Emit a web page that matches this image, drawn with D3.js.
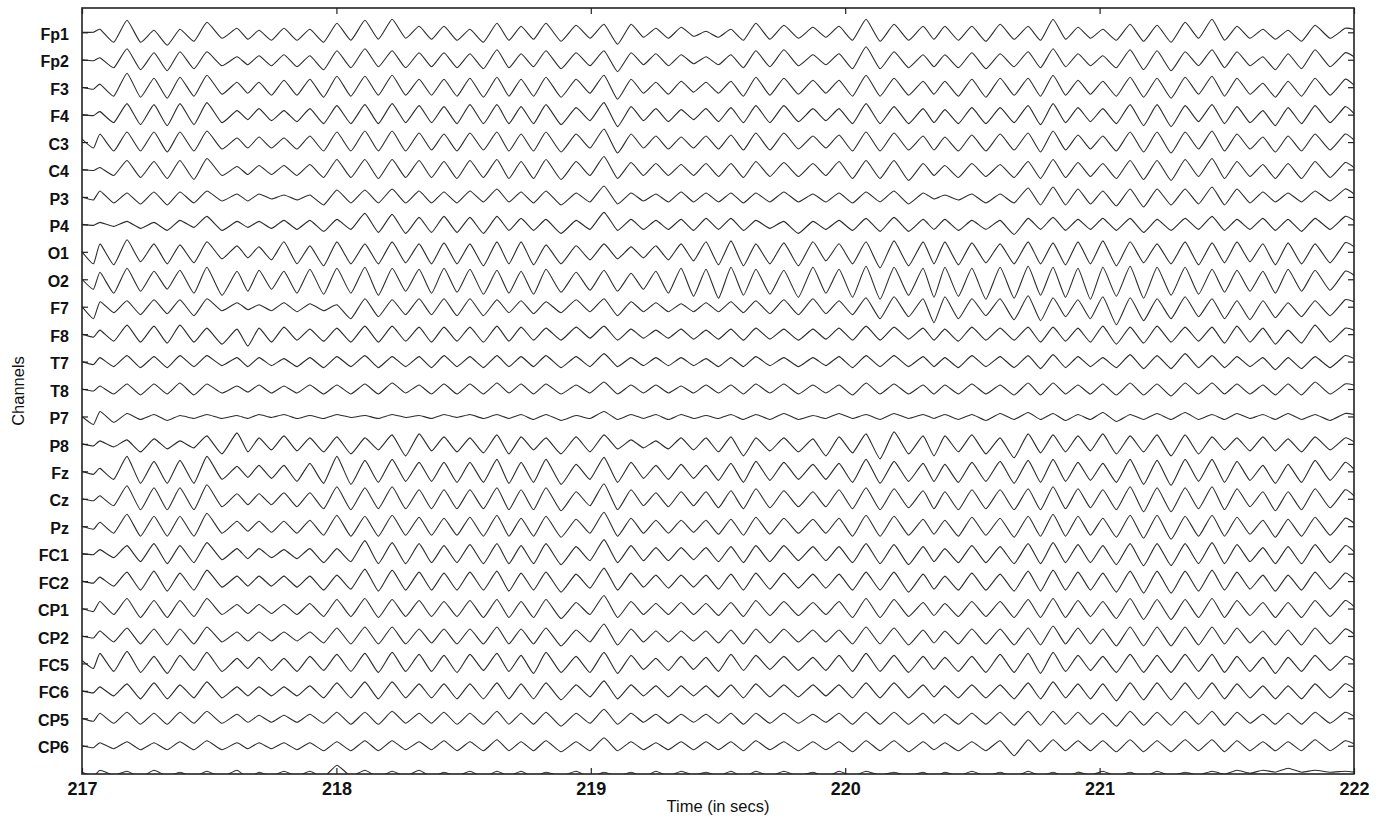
<!DOCTYPE html>
<html>
<head>
<meta charset="utf-8">
<script src="https://cdn.jsdelivr.net/npm/d3@7"></script>
<style>
  body { margin: 0; background: #fff; }
  text { font-family: "Liberation Sans", Arial, Helvetica, sans-serif; }
</style>
</head>
<body>
<div id="chart"></div>
<script>
// channel labels, top to bottom (a 28th trace below CP6 is drawn but not labelled)
const channels = ["Fp1", "Fp2", "F3", "F4", "C3", "C4", "P3", "P4", "O1", "O2",
    "F7", "F8", "T7", "T8", "P7", "P8", "Fz", "Cz", "Pz", "FC1", "FC2",
    "CP1", "CP2", "FC5", "FC6", "CP5", "CP6"];

const timeTicks = [217, 218, 219, 220, 221, 222];

const times = [217.000,
    217.045, 217.071, 217.125, 217.177, 217.230, 217.283, 217.335, 217.385,
    217.440, 217.491, 217.550, 217.609, 217.652, 217.696, 217.745, 217.794,
    217.845, 217.896, 217.950, 218.002, 218.057, 218.112, 218.165, 218.219,
    218.272, 218.325, 218.374, 218.423, 218.474, 218.525, 218.578, 218.631,
    218.678, 218.726, 218.775, 218.824, 218.883, 218.942, 218.997, 219.052,
    219.105, 219.158, 219.207, 219.256, 219.305, 219.355, 219.404, 219.453,
    219.502, 219.551, 219.600, 219.649, 219.704, 219.759, 219.816, 219.873,
    219.924, 219.976, 220.029, 220.082, 220.137, 220.192, 220.249, 220.306,
    220.349, 220.392, 220.445, 220.498, 220.553, 220.609, 220.664, 220.719,
    220.768, 220.817, 220.866, 220.915, 220.964, 221.013, 221.066, 221.120,
    221.173, 221.226, 221.281, 221.336, 221.389, 221.442, 221.491, 221.540,
    221.591, 221.642, 221.691, 221.741, 221.794, 221.847, 221.906, 221.965,
    222.000];

// amplitude of each trace at those vertex times (up = positive)
const traces = [
  // Fp1
  [0,
   0,3, -10,12, -10,2, -13,3, -9,10, -6,4, -7,2, -8,4, -8,3, -10,9, -8,12, -7,13, -6,6, -7,6, -8,3, -10,9,
   -8,6, -7,9, -9,7, -6,8, -12,8, -5,4, -6,5, -4,1, -5,3, -8,9, -7,7, -6,5, -5,6, -8,13, -9,8, -8,6,
   -7,6, -8,6, -9,8, -7,6, -8,13, -7,5, -6,3, -8,8, -9,7, -10,10, -6,13, -8,6, -6,3, -7,2, -9,7, -6,4,
   3],
  // Fp2
  [0,
   -1,2, -8,11, -10,7, -11,8, -9,8, -6,3, -5,4, -6,5, -7,4, -10,9, -8,11, -7,9, -8,7, -7,7, -8,6, -9,10,
   -8,6, -7,9, -9,7, -6,9, -12,7, -5,6, -6,5, -4,3, -5,5, -8,9, -7,10, -6,5, -5,6, -9,13, -9,8, -8,5,
   -7,5, -8,7, -9,6, -7,8, -8,11, -7,6, -6,4, -8,10, -10,9, -11,8, -6,10, -8,8, -6,3, -10,6, -9,10, -7,7,
   3],
  // F3
  [0,
   -2,3, -9,14, -10,9, -11,10, -9,12, -7,5, -6,5, -8,7, -8,8, -10,11, -9,11, -8,12, -8,8, -8,8, -9,9, -10,10,
   -9,8, -9,10, -10,8, -6,12, -12,8, -6,5, -7,6, -5,5, -6,6, -9,10, -8,9, -7,7, -6,7, -9,12, -9,9, -8,6,
   -7,6, -9,8, -10,9, -8,9, -9,12, -8,7, -7,6, -9,10, -10,9, -11,10, -7,11, -9,9, -7,4, -10,6, -9,9, -8,8,
   2],
  // F4
  [0,
   -1,3, -8,11, -10,10, -11,11, -10,12, -8,4, -5,6, -6,4, -7,6, -9,9, -9,10, -9,11, -8,9, -8,8, -9,10, -9,10,
   -9,8, -9,10, -10,7, -6,12, -12,8, -6,6, -7,5, -5,6, -7,7, -8,9, -8,9, -7,6, -6,6, -9,11, -9,8, -9,6,
   -8,5, -9,7, -9,7, -8,9, -10,11, -8,7, -7,6, -9,10, -11,10, -12,9, -7,10, -9,8, -8,4, -11,7, -9,9, -8,8,
   1],
  // C3
  [3,
   -6,8, -9,10, -9,10, -10,10, -9,11, -7,4, -6,5, -6,4, -7,6, -9,10, -9,11, -9,11, -9,9, -8,8, -9,9, -8,10,
   -9,8, -9,10, -10,8, -6,13, -11,8, -6,6, -7,5, -6,6, -7,7, -8,9, -8,9, -7,6, -6,7, -9,10, -9,9, -8,6,
   -8,5, -9,7, -9,8, -8,9, -10,11, -8,7, -7,6, -9,10, -10,10, -11,10, -7,11, -9,8, -7,5, -10,6, -9,8, -8,8,
   2],
  // C4
  [0,
   -1,2, -6,9, -8,8, -9,9, -10,11, -6,3, -5,4, -5,4, -6,5, -8,10, -8,10, -9,10, -8,9, -8,8, -9,9, -8,10,
   -9,8, -9,10, -10,8, -6,13, -9,7, -6,6, -6,5, -6,6, -7,6, -8,8, -7,7, -7,6, -6,8, -9,9, -9,9, -11,6,
   -6,4, -8,6, -7,5, -8,8, -9,10, -8,7, -7,6, -9,9, -10,9, -11,10, -7,11, -9,8, -7,5, -9,6, -9,8, -8,7,
   2],
  // P3
  [0,
   -3,6, -6,4, -7,5, -8,5, -6,6, -4,3, -4,3, -2,2, -3,2, -8,7, -6,7, -6,8, -6,6, -6,5, -6,6, -5,8,
   -5,5, -6,6, -8,4, -5,11, -7,4, -4,3, -5,5, -5,4, -5,4, -6,4, -5,5, -5,3, -5,4, -6,5, -5,6, -7,4,
   -2,2, -3,3, -6,3, -6,9, -8,10, -8,8, -7,6, -9,8, -10,8, -8,8, -7,10, -8,8, -6,5, -5,4, -5,6, -4,8,
   3],
  // P4
  [0,
   -1,2, -2,3, -4,2, -6,4, -3,8, -6,3, -3,3, -4,4, -5,4, -7,5, -5,11, -8,10, -9,7, -8,8, -8,7, -9,8,
   -6,6, -6,5, -9,4, -5,12, -6,5, -5,4, -5,5, -6,6, -5,6, -6,4, -4,3, -9,3, -5,4, -6,6, -7,7, -7,5,
   -5,5, -6,4, -5,4, -10,6, -5,7, -6,5, -5,6, -6,6, -8,5, -6,6, -5,8, -6,5, -5,6, -6,5, -7,6, -5,8,
   4],
  // O1
  [0,
   -12,8, -13,12, -10,8, -12,7, -11,10, -7,6, -6,5, -8,10, -12,6, -14,10, -12,8, -12,10, -11,8, -12,9, -12,8, -14,10,
   -12,10, -13,7, -12,6, -8,8, -7,5, -6,6, -8,8, -9,10, -13,11, -14,8, -12,9, -14,10, -9,8, -12,10, -16,11, -14,10,
   -12,10, -13,9, -11,8, -12,10, -12,9, -13,10, -12,11, -14,10, -11,8, -12,10, -13,9, -11,10, -10,8, -13,9, -12,8, -11,9,
   5],
  // O2
  [0,
   -10,7, -14,11, -12,8, -10,9, -14,12, -16,8, -12,9, -10,8, -14,10, -15,11, -14,12, -16,11, -12,10, -14,11, -13,10, -15,9,
   -14,8, -15,10, -13,7, -11,9, -12,6, -10,8, -14,11, -17,10, -19,12, -16,10, -15,9, -18,12, -14,10, -18,13, -20,12, -16,11,
   -18,12, -17,11, -20,12, -19,13, -16,12, -18,11, -20,12, -17,13, -19,12, -16,12, -15,10, -13,9, -12,8, -14,10, -12,9, -11,8,
   4],
  // F7
  [0,
   -12,5, -6,6, -8,7, -7,7, -9,8, -4,4, -3,2, -4,4, -5,3, -4,2, -12,8, -10,7, -8,8, -8,8, -9,8, -9,7,
   -6,6, -7,5, -6,7, -5,8, -9,5, -5,4, -5,3, -5,4, -5,5, -6,6, -7,7, -8,8, -7,6, -8,9, -12,10, -10,8,
   -16,10, -12,8, -9,8, -13,11, -14,9, -10,7, -12,10, -18,9, -14,8, -12,10, -10,8, -12,6, -13,6, -11,4, -10,6, -9,7,
   5],
  // F8
  [0,
   -3,4, -7,9, -8,8, -9,9, -8,6, -10,5, -12,6, -8,7, -6,5, -7,6, -8,8, -8,8, -7,7, -8,7, -7,7, -8,8,
   -7,7, -6,6, -6,7, -4,8, -6,5, -4,4, -4,5, -5,4, -5,5, -6,6, -5,5, -6,5, -5,6, -6,8, -6,7, -5,6,
   -6,5, -7,7, -6,6, -6,7, -8,7, -7,6, -8,8, -10,7, -9,8, -8,7, -7,7, -9,8, -8,6, -10,4, -9,9, -8,6,
   4],
  // T7
  [0,
   -3,4, -5,6, -6,5, -6,6, -5,6, -4,4, -5,4, -4,3, -5,4, -6,5, -5,6, -6,5, -5,5, -6,6, -5,5, -6,6,
   -5,5, -5,6, -6,5, -5,8, -5,4, -4,4, -4,4, -4,3, -5,4, -5,5, -4,4, -5,4, -4,5, -6,6, -5,6, -5,5,
   -5,4, -6,6, -5,5, -6,6, -7,7, -6,5, -5,4, -6,7, -7,6, -7,8, -6,6, -6,5, -5,4, -8,4, -7,5, -6,6,
   3],
  // T8
  [0,
   -2,3, -5,5, -6,5, -5,6, -6,5, -4,3, -3,4, -4,3, -4,4, -5,4, -5,5, -5,6, -4,4, -5,5, -5,5, -5,6,
   -4,5, -5,5, -5,4, -4,7, -5,4, -4,4, -4,3, -4,4, -4,4, -5,5, -4,5, -5,4, -4,4, -6,6, -5,5, -5,4,
   -5,4, -5,5, -5,4, -6,6, -6,6, -5,4, -5,5, -6,6, -6,5, -7,6, -5,6, -5,5, -5,4, -6,5, -6,7, -5,5,
   4],
  // P7
  [0,
   -8,5, -6,3, -3,2, -4,1, -2,2, -2,1, -2,2, -1,2, -2,1, -2,2, -1,1, -2,2, -1,1, -2,2, -1,2, -2,2,
   -2,2, -3,2, -4,1, -2,5, -3,2, -2,2, -3,2, -2,1, -2,2, -3,2, -3,3, -3,1, -2,3, -2,2, -3,3, -2,2,
   -2,2, -3,2, -4,3, -3,4, -3,3, -4,2, -3,4, -5,2, -3,3, -3,4, -3,2, -3,3, -2,2, -3,3, -3,2, -4,3,
   2],
  // P8
  [0,
   -2,3, -3,4, -8,5, -5,3, -4,8, -10,11, -8,6, -6,8, -7,6, -8,7, -10,6, -6,9, -12,10, -7,7, -8,6, -9,9,
   -10,7, -6,6, -10,7, -8,9, -5,4, -4,3, -5,6, -6,6, -8,7, -12,6, -7,6, -8,5, -12,7, -9,10, -15,12, -10,8,
   -12,8, -8,9, -10,6, -14,10, -9,9, -8,8, -7,10, -10,8, -8,9, -12,9, -10,7, -6,6, -7,7, -7,5, -8,7, -6,6,
   2],
  // Fz
  [0,
   -3,3, -8,15, -12,10, -12,11, -12,15, -8,5, -6,6, -7,6, -10,8, -12,15, -13,11, -11,12, -10,9, -10,9, -11,9, -11,12,
   -12,9, -11,12, -13,7, -8,14, -11,9, -7,6, -8,7, -7,6, -9,8, -11,10, -9,9, -8,7, -8,8, -11,12, -12,10, -10,8,
   -10,7, -11,9, -10,10, -12,11, -11,12, -10,9, -9,8, -11,12, -13,11, -14,12, -10,12, -11,10, -9,6, -12,7, -11,11, -9,9,
   2],
  // Cz
  [0,
   -2,3, -7,13, -11,11, -11,11, -11,14, -8,5, -6,5, -6,6, -8,6, -10,12, -11,11, -10,12, -10,9, -10,9, -10,9, -10,11,
   -11,9, -11,11, -12,7, -7,15, -11,9, -7,6, -8,7, -7,7, -9,8, -10,10, -9,8, -8,7, -8,9, -10,11, -11,10, -9,8,
   -10,7, -11,9, -10,9, -11,10, -11,12, -10,10, -9,9, -11,12, -13,11, -13,11, -10,12, -11,10, -8,7, -12,7, -11,10, -9,9,
   3],
  // Pz
  [0,
   -3,4, -7,12, -10,10, -10,10, -10,13, -7,5, -5,5, -6,5, -7,6, -9,11, -10,10, -10,11, -9,9, -9,8, -9,9, -10,11,
   -10,8, -10,10, -11,7, -7,14, -10,8, -7,6, -7,6, -6,6, -8,7, -9,9, -8,8, -7,7, -7,8, -10,11, -10,10, -9,7,
   -8,6, -10,9, -9,8, -11,10, -10,12, -10,10, -9,8, -11,11, -12,11, -13,10, -10,11, -10,9, -8,6, -11,7, -10,9, -9,8,
   3],
  // FC1
  [0,
   -1,4, -4,8, -8,10, -10,8, -9,11, -6,5, -5,5, -4,4, -5,5, -9,5, -8,13, -10,11, -10,10, -9,8, -9,9, -10,10,
   -10,8, -10,10, -11,7, -7,14, -9,8, -7,6, -7,6, -6,6, -8,7, -9,8, -8,8, -7,7, -7,7, -9,10, -10,9, -11,7,
   -8,5, -9,8, -9,7, -10,10, -10,11, -9,9, -9,8, -11,10, -12,10, -12,10, -10,11, -10,9, -8,6, -10,7, -10,9, -9,8,
   2],
  // FC2
  [0,
   -2,4, -5,9, -9,10, -10,8, -9,11, -6,5, -5,5, -5,5, -6,5, -9,6, -8,12, -10,11, -9,9, -9,8, -9,9, -9,10,
   -10,8, -9,9, -11,7, -7,13, -9,8, -6,6, -7,6, -6,6, -8,7, -9,8, -8,8, -7,7, -7,7, -9,9, -9,9, -11,7,
   -8,5, -9,8, -9,7, -10,10, -10,11, -9,9, -9,8, -11,10, -12,10, -12,10, -10,11, -9,9, -8,6, -10,6, -9,9, -8,8,
   2],
  // CP1
  [0,
   -3,7, -6,10, -9,8, -9,8, -8,10, -6,4, -5,4, -5,4, -6,5, -8,9, -8,10, -9,9, -8,8, -8,7, -8,8, -9,9,
   -9,7, -9,9, -10,6, -6,13, -9,7, -6,5, -6,6, -6,5, -7,6, -8,8, -7,7, -7,6, -6,7, -9,10, -9,9, -8,6,
   -7,5, -8,7, -8,7, -9,9, -9,10, -9,8, -8,7, -10,10, -11,9, -11,9, -9,10, -9,8, -7,6, -9,6, -9,8, -8,8,
   2],
  // CP2
  [0,
   -2,5, -6,8, -8,7, -9,7, -8,9, -6,4, -5,4, -5,4, -5,4, -7,8, -8,9, -8,9, -8,7, -7,7, -8,7, -8,9,
   -8,7, -8,8, -10,6, -6,12, -9,7, -6,5, -6,5, -5,5, -7,6, -8,7, -7,7, -6,6, -6,6, -8,9, -8,8, -9,6,
   -7,5, -8,7, -8,7, -9,8, -9,10, -8,8, -8,7, -10,9, -10,9, -10,9, -9,9, -8,8, -7,5, -9,6, -9,8, -8,7,
   2],
  // FC5
  [3,
   -5,10, -8,12, -9,7, -10,8, -7,11, -8,5, -5,6, -7,5, -8,7, -7,9, -8,10, -9,11, -8,9, -8,8, -9,9, -7,10,
   -8,8, -10,11, -9,7, -9,11, -10,8, -6,5, -7,7, -6,6, -8,9, -7,8, -6,7, -7,6, -7,8, -8,10, -8,8, -9,7,
   -6,6, -8,7, -9,9, -9,10, -10,11, -8,8, -7,7, -9,9, -9,8, -9,9, -8,9, -9,7, -8,6, -10,6, -8,8, -7,7,
   3],
  // FC6
  [0,
   -2,4, -5,7, -8,8, -8,6, -7,9, -7,4, -5,4, -5,4, -5,5, -7,8, -7,9, -8,9, -7,7, -7,7, -8,7, -8,8,
   -8,7, -8,8, -9,6, -6,10, -8,6, -5,5, -6,5, -5,5, -6,6, -7,7, -6,6, -6,6, -5,6, -7,8, -7,8, -7,6,
   -6,5, -7,6, -7,6, -8,8, -8,9, -7,7, -8,7, -10,8, -9,8, -9,8, -8,8, -8,7, -7,5, -8,5, -8,7, -7,7,
   2],
  // CP5
  [0,
   -3,5, -5,6, -6,5, -6,6, -5,7, -5,4, -4,3, -4,3, -4,4, -5,6, -6,6, -6,7, -5,5, -5,6, -6,5, -6,7,
   -6,5, -6,6, -8,5, -5,9, -6,5, -4,4, -5,4, -4,4, -5,5, -6,5, -5,5, -5,4, -4,5, -6,6, -6,6, -6,5,
   -5,4, -6,5, -6,6, -7,7, -7,7, -6,6, -6,5, -8,7, -7,6, -7,7, -6,7, -7,6, -5,4, -6,5, -6,6, -5,6,
   2],
  // CP6
  [0,
   -2,3, -3,4, -4,3, -4,4, -4,5, -4,3, -3,3, -3,3, -4,3, -5,4, -5,5, -5,5, -4,4, -4,5, -5,4, -5,6,
   -5,4, -5,5, -6,4, -5,8, -5,4, -4,3, -4,4, -4,4, -4,4, -5,5, -4,4, -5,4, -4,4, -6,5, -5,5, -6,4,
   -4,3, -5,4, -5,5, -10,6, -6,6, -5,5, -5,5, -6,6, -6,5, -6,6, -5,6, -6,5, -5,4, -5,4, -5,6, -5,5,
   2],
  // (28th channel, cut by the bottom of the plot)
  [1,
   -3,3, -2,2, -4,3, -3,1, -4,2, -4,3, -5,1, -3,2, -3,2, -4,8, -3,3, -4,2, -3,3, -4,1, -3,2, -4,2,
   -3,2, -4,1, -3,2, -4,1, -3,1, -4,2, -3,2, -2,1, -3,2, -4,2, -3,2, -3,1, -4,2, -3,2, -2,1, -3,1,
   -4,1, -3,2, -3,1, -4,2, -3,1, -4,1, -2,2, -3,1, -4,2, -3,1, -2,2, -1,3, 0,3, 1,5, 1,3, 1,2,
   1]
];

const width = 1383, height = 830;
const margin = {top: 8, right: 29, bottom: 56, left: 82};
const plotW = width - margin.left - margin.right;
const plotH = height - margin.top - margin.bottom;

const svg = d3.select("#chart").append("svg")
    .attr("width", width)
    .attr("height", height);

const x = d3.scaleLinear().domain([217, 222]).range([0, plotW]);
// channel index -> vertical position (Fp1 sits a bit below the top edge)
const y = d3.scaleLinear().domain([-0.886, 27.03]).range([0, plotH]);
const gain = y(1) - y(0); // amplitude units per channel spacing (1 unit ~ 1px)

const g = svg.append("g").attr("transform", `translate(${margin.left},${margin.top})`);

g.append("clipPath").attr("id", "plot-clip")
    .append("rect").attr("width", plotW).attr("height", plotH);

traces.forEach((vals, i) => {
    if (vals.length !== times.length) console.warn("length mismatch", i, vals.length);
});

// a tight cardinal curve: pointed peaks, only slightly rounded
const line = d3.line()
    .curve(d3.curveCardinal.tension(0.55))
    .x(d => x(d[0]))
    .y(d => y(d[2] - d[1] / gain));

g.append("g").attr("clip-path", "url(#plot-clip)")
    .selectAll("path.trace")
    .data(traces.map((vals, i) => vals.map((v, j) => [times[j], v, i])))
    .join("path")
    .attr("class", "trace")
    .attr("d", line)
    .attr("fill", "none")
    .attr("stroke", "#2b2b2b")
    .attr("stroke-width", 1.1)
    .attr("stroke-linejoin", "round");

// axes: ticks point inward on all four sides
const chanIdx = d3.range(channels.length);
const fontFam = '"Liberation Sans", Arial, Helvetica, sans-serif';

const xBottom = g.append("g").attr("transform", `translate(0,${plotH})`)
    .call(d3.axisBottom(x).tickValues(timeTicks).tickFormat(d3.format("d"))
        .tickSizeInner(-6).tickSizeOuter(0).tickPadding(8));
xBottom.selectAll("text").attr("font-size", 18).attr("font-weight", "bold")
    .attr("font-family", fontFam).attr("fill", "#111");

g.append("g")
    .call(d3.axisTop(x).tickValues(timeTicks).tickFormat("")
        .tickSizeInner(-6).tickSizeOuter(0));

const yLeft = g.append("g")
    .call(d3.axisLeft(y).tickValues(chanIdx).tickFormat(i => channels[i])
        .tickSizeInner(-6).tickSizeOuter(0).tickPadding(13));
yLeft.selectAll("text").attr("font-size", 16).attr("font-weight", "bold")
    .attr("font-family", fontFam).attr("fill", "#111")
    .attr("transform", "translate(0,2)");

g.append("g").attr("transform", `translate(${plotW},0)`)
    .call(d3.axisRight(y).tickValues(chanIdx).tickFormat("")
        .tickSizeInner(-6).tickSizeOuter(0));

g.selectAll(".domain").remove();
g.selectAll(".tick line").attr("stroke", "#222").attr("stroke-width", 1.2);

g.append("rect")
    .attr("width", plotW).attr("height", plotH)
    .attr("fill", "none").attr("stroke", "#222").attr("stroke-width", 1.6);

// axis titles
svg.append("text")
    .attr("x", margin.left + plotW / 2).attr("y", 812)
    .attr("text-anchor", "middle")
    .attr("font-size", 16.5).attr("fill", "#111")
    .text("Time (in secs)");

svg.append("text")
    .attr("transform", `translate(24,${margin.top + plotH / 2}) rotate(-90)`)
    .attr("text-anchor", "middle")
    .attr("font-size", 16.5).attr("fill", "#111")
    .text("Channels");
</script>
</body>
</html>
